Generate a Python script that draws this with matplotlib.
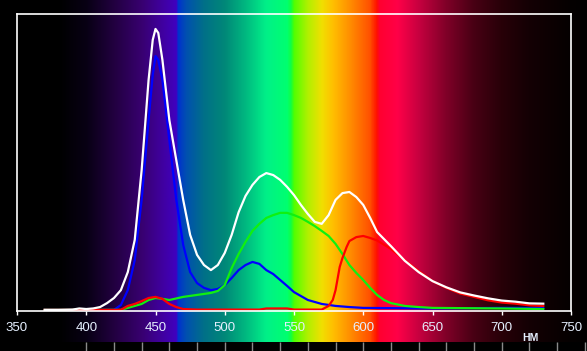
import numpy as np
import matplotlib
matplotlib.use("Agg")
import matplotlib.pyplot as plt
from matplotlib.colors import LinearSegmentedColormap

# ---- data ----
white_nm = [370, 380, 390, 395, 400, 405, 410, 415, 420, 425, 430, 435, 440, 445, 448, 450, 452, 455,
            460, 465, 470, 475, 480, 485, 490, 495, 500, 505, 510, 515, 520, 525, 530, 535, 540, 545,
            550, 555, 560, 565, 570, 575, 580, 585, 590, 595, 600, 605, 610, 620, 630, 640, 650, 660,
            670, 680, 690, 700, 710, 720, 730]
white_val = [0.004, 0.004, 0.005, 0.009, 0.007, 0.009, 0.014, 0.028, 0.046, 0.074, 0.138, 0.252, 0.50,
             0.819, 0.961, 1.0, 0.986, 0.89, 0.677, 0.535, 0.394, 0.27, 0.199, 0.163, 0.145, 0.163,
             0.206, 0.27, 0.35, 0.408, 0.447, 0.475, 0.489, 0.482, 0.465, 0.44, 0.411, 0.376, 0.344,
             0.316, 0.309, 0.34, 0.394, 0.418, 0.422, 0.404, 0.376, 0.33, 0.28, 0.23, 0.178, 0.138,
             0.106, 0.084, 0.066, 0.055, 0.045, 0.037, 0.033, 0.027, 0.026]

blue_nm = [370, 420, 425, 430, 435, 440, 445, 448, 450, 452, 455, 460, 465, 470, 475, 480, 485, 490,
           495, 500, 505, 510, 515, 520, 525, 530, 535, 540, 545, 550, 555, 560, 565, 570, 580, 590,
           600, 650, 700, 730]
blue_val = [0.004, 0.004, 0.021, 0.074, 0.18, 0.394, 0.677, 0.837, 0.904, 0.89, 0.819, 0.606, 0.394,
            0.234, 0.138, 0.099, 0.082, 0.074, 0.078, 0.092, 0.117, 0.145, 0.163, 0.174, 0.167, 0.145,
            0.131, 0.11, 0.089, 0.067, 0.053, 0.039, 0.032, 0.025, 0.018, 0.014, 0.011, 0.009, 0.011,
            0.011]

green_nm = [370, 425, 430, 435, 440, 445, 450, 455, 460, 470, 480, 490, 495, 500, 505, 510, 515, 520,
            525, 530, 535, 540, 545, 550, 555, 560, 565, 570, 575, 580, 585, 590, 595, 600, 605, 610,
            615, 620, 630, 640, 650, 700, 730]
green_val = [0.004, 0.004, 0.011, 0.018, 0.025, 0.039, 0.046, 0.043, 0.039, 0.05, 0.057, 0.064, 0.071,
             0.092, 0.152, 0.202, 0.245, 0.284, 0.309, 0.33, 0.34, 0.348, 0.348, 0.34, 0.33, 0.316,
             0.301, 0.284, 0.266, 0.238, 0.202, 0.163, 0.135, 0.11, 0.082, 0.057, 0.039, 0.028, 0.018,
             0.014, 0.011, 0.009, 0.007]

red_nm = [370, 425, 430, 435, 440, 445, 450, 455, 460, 465, 470, 480, 525, 530, 545, 550, 570, 575,
          578, 580, 583, 585, 588, 590, 595, 600, 605, 610, 620, 630, 640, 650, 660, 670, 680, 690,
          700, 710, 720, 730]
red_val = [0.004, 0.004, 0.018, 0.025, 0.035, 0.046, 0.05, 0.043, 0.025, 0.014, 0.007, 0.005, 0.005,
           0.009, 0.009, 0.005, 0.005, 0.018, 0.039, 0.074, 0.156, 0.188, 0.227, 0.248, 0.262, 0.266,
           0.259, 0.25, 0.22, 0.18, 0.142, 0.106, 0.082, 0.062, 0.05, 0.038, 0.03, 0.026, 0.02, 0.018]

xticks = [350, 400, 450, 500, 550, 600, 650, 700, 750]
minor_ticks = list(range(400, 761, 20))
unit_label = "НМ"

# spectrum colour stops (nm, hex)
spec_nm = [330, 380, 400, 420, 440, 455, 465, 466, 472, 485, 500, 515, 530, 545, 548, 550, 560, 570,
           578, 590, 605, 610, 612, 625, 640, 660, 680, 700, 720, 750, 770]
spec_col = ["#000000", "#000000", "#080014", "#220040", "#380070", "#4000a0", "#4000c0", "#0030d0",
            "#0050b0", "#007088", "#008878", "#00b880", "#00f088", "#00ff70", "#10ff40", "#50ff00",
            "#b0f000", "#f0e000", "#ffc000", "#ff9000", "#ff5000", "#ff1000", "#ff0030", "#ff0048",
            "#c80040", "#800028", "#480014", "#280008", "#140004", "#050000", "#000000"]

# ---- figure ----
W, H = 587, 351
fig = plt.figure(figsize=(W / 100, H / 100), dpi=100, facecolor="black")

x0_nm, x1_nm = 350, 750
px_left, px_right = 17, 571
scale = (px_right - px_left) / (x1_nm - x0_nm)
bg_l = x0_nm - px_left / scale
bg_r = x0_nm + (W - px_left) / scale

bg = fig.add_axes([0, 0, 1, 1])
bg.set_xlim(bg_l, bg_r)
bg.set_ylim(H, 0)
bg.axis("off")
bg.set_facecolor("black")

lo, hi = spec_nm[0], spec_nm[-1]
pos = [(v - lo) / (hi - lo) for v in spec_nm]
cmap = LinearSegmentedColormap.from_list("spec", list(zip(pos, spec_col)), N=1024)
grad = np.linspace(bg_l, bg_r, 1200)
img = cmap((grad - lo) / (hi - lo))[np.newaxis, :, :]
bg.imshow(img, extent=[bg_l, bg_r, 342, 0], aspect="auto", interpolation="bilinear")
bg.vlines(minor_ticks, 342, H, color="#8a8a8a", lw=1)
# unit label near 720 nm, just above the strip bottom
bg.text(720.5, 338, unit_label, color="#e6f0ff", fontsize=7.5, fontweight="bold",
        ha="center", va="center", family="Liberation Sans")

ymax = 1.053
ax = fig.add_axes([px_left / W, (H - 311) / H, (px_right - px_left) / W, (311 - 14) / H])
ax.patch.set_alpha(0)
ax.set_xlim(x0_nm, x1_nm)
ax.set_ylim(-0.0, ymax)
for s in ax.spines.values():
    s.set_color("white")
    s.set_linewidth(1.2)

lw = 1.6
ax.plot(blue_nm, blue_val, color="#0000ff", lw=lw)
ax.plot(green_nm, green_val, color="#10f010", lw=lw)
ax.plot(red_nm, red_val, color="#ff0000", lw=lw)
ax.plot(white_nm, white_val, color="#ffffff", lw=lw)

ax.set_xticks(xticks)
ax.set_xticklabels([str(t) for t in xticks])
ax.set_yticks([])
ax.tick_params(axis="x", colors="white", length=3, width=1, pad=5, labelsize=9.5,
               labelcolor="#e6f0ff")
for lab in ax.get_xticklabels():
    lab.set_family("Liberation Sans")

fig.savefig("out.png", dpi=100, facecolor="black")
